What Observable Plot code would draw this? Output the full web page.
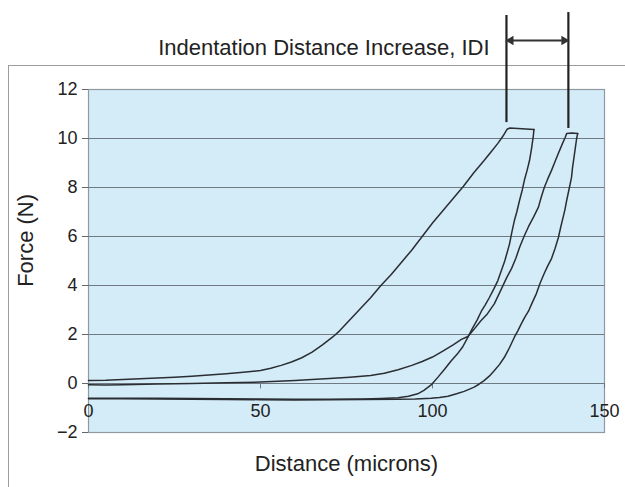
<!DOCTYPE html>
<html><head><meta charset="utf-8">
<script src="https://cdn.jsdelivr.net/npm/d3@7"></script>
<script src="https://cdn.jsdelivr.net/npm/@observablehq/plot@0.6"></script>
<style>
body{margin:0;background:#fff;}
#wrap{position:relative;width:625px;height:487px;overflow:hidden;font-family:"Liberation Sans",Arial,sans-serif;}
#box{position:absolute;left:8px;top:65px;width:700px;height:500px;border-left:1.5px solid #9c9c9c;border-top:1.5px solid #9c9c9c;}
#wrap svg{position:absolute;left:0;top:0;}
</style></head><body><div id="wrap"><div id="box"></div></div>
<script>
// ---- data (distance in microns, force in N) ----
const load1 = [[0,0.12],[5,0.13],[10,0.16],[15,0.19],[20,0.22],[25,0.26],[30,0.3],[35,0.35],[40,0.4],[45,0.46],[50,0.53],[53,0.62],[56,0.74],[59,0.88],[62,1.05],[65,1.28],[68,1.58],[71,1.9],[73,2.15],[76,2.6],[79,3.05],[82,3.5],[85,4.0],[88,4.45],[91,4.95],[94,5.45],[97,6.0],[100,6.55],[103,7.05],[106,7.55],[109,8.05],[112,8.6],[115,9.1],[117,9.45],[119,9.8],[120.5,10.1],[121.7,10.38],[122.5,10.43],[126,10.4],[129.5,10.37]];
const unload1 = [[129.5,10.37],[129.3,10.1],[128.8,9.6],[128.2,9.1],[127.5,8.7],[126.8,8.35],[126.1,7.9],[125.3,7.47],[124.5,7.0],[123.8,6.65],[123.1,6.2],[122.4,5.7],[121.7,5.35],[121,5.0],[120,4.6],[119,4.2],[117.8,3.85],[116.5,3.5],[115.3,3.2],[114.2,2.95],[113,2.6],[111.6,2.25],[110.3,1.89],[108.8,1.5],[107.2,1.2],[105.4,0.92],[103.5,0.58],[101.6,0.26],[99.6,-0.06],[97.5,-0.28],[95.7,-0.42],[93,-0.52],[90,-0.58],[85,-0.61],[80,-0.63],[70,-0.64],[60,-0.64],[50,-0.63],[40,-0.62],[30,-0.61],[20,-0.6],[10,-0.6],[0,-0.6]];
const load2 = [[0,-0.05],[5,-0.06],[10,-0.05],[20,-0.02],[30,0.0],[40,0.03],[50,0.06],[60,0.12],[70,0.2],[76,0.26],[82,0.33],[86,0.42],[90,0.56],[94,0.74],[97,0.9],[100,1.08],[103,1.32],[106,1.58],[108.4,1.8],[110.3,1.92],[112,2.2],[114,2.55],[116,2.85],[118,3.26],[120,3.85],[121.5,4.3],[123,4.7],[124.2,5.1],[125.3,5.55],[126.6,6.0],[127.9,6.4],[129.4,6.8],[130.8,7.2],[131.6,7.6],[132.5,8.0],[133.5,8.35],[134.6,8.7],[135.6,9.05],[136.6,9.4],[137.8,9.8],[138.6,10.05],[139,10.2],[140.5,10.22],[142.2,10.2]];
const unload2 = [[142.2,10.2],[141.9,10.0],[141.5,9.6],[141.1,9.2],[140.7,8.8],[140.4,8.4],[139.8,8.0],[139,7.47],[138.5,7.1],[138,6.8],[137.3,6.4],[136.6,5.96],[135.6,5.5],[134.6,5.1],[133.5,4.8],[132.5,4.5],[131.3,4.1],[130.2,3.67],[129,3.3],[127.9,2.95],[126.8,2.7],[125.8,2.43],[124.8,2.15],[123.8,1.89],[122.4,1.47],[120.9,1.07],[119.5,0.78],[118,0.53],[116.5,0.3],[115,0.12],[113.5,-0.03],[112.1,-0.15],[110.6,-0.24],[109.2,-0.32],[107,-0.42],[104.5,-0.52],[102,-0.57],[99.6,-0.6],[95,-0.63],[90,-0.64],[80,-0.65],[70,-0.66],[60,-0.67],[50,-0.66],[40,-0.65],[30,-0.64],[20,-0.63],[10,-0.62],[0,-0.62]];

const xTicks = [0, 50, 100, 150];
const yTicks = [-2, 0, 2, 4, 6, 8, 10, 12];
const gridY = [0, 2, 4, 6, 8, 10];

const titleText = "Indentation Distance Increase, IDI";
const xLabel = "Distance (microns)";
const yLabel = "Force (N)";

// IDI annotation: peak distances of the two cycles
const idiX = [121.5, 139.5];
const idiTop = [15.02, 15.14];
const idiBottom = [10.65, 10.41];
const idiArrowY = 14.0;

const px = d => d[0], py = d => d[1];
const curveStyle = {x: px, y: py, stroke: "#2a2e32", strokeWidth: 1.5};

const heads = [
  {x: idiX[0] + 1.25, rot: -90},
  {x: idiX[1] - 1.25, rot: 90}
];

const chart = Plot.plot({
  width: 625, height: 487,
  marginTop: 89, marginBottom: 55, marginLeft: 88, marginRight: 21,
  style: {background: "transparent", fontFamily: "'Liberation Sans', Arial, sans-serif", color: "#222", overflow: "visible"},
  x: {domain: [0, 150], axis: null},
  y: {domain: [-2, 12], axis: null},
  marks: [
    Plot.frame({fill: "#d4ebf8", stroke: "#8f999f", strokeWidth: 1.2}),
    Plot.ruleY(gridY, {stroke: "#6f7a82", strokeWidth: 1}),
    Plot.axisY({ticks: yTicks, tickSize: 6, tickPadding: 5, fontSize: 18, label: null, stroke: "#666", fill: "#222", tickFormat: d => d < 0 ? "\u2212" + Math.abs(d) : String(d)}),
    Plot.ruleX(xTicks, {x: d => d, y1: 0, y2: -0.22, stroke: "#6f7a82"}),
    Plot.text(xTicks, {x: d => d, y: () => -1.15, text: d => String(d), fontSize: 18, fill: "#222"}),
    Plot.line(load1, curveStyle),
    Plot.line(unload1, curveStyle),
    Plot.line(load2, curveStyle),
    Plot.line(unload2, curveStyle),
    Plot.ruleX(idiX.map((x, i) => ({x, y1: idiBottom[i], y2: idiTop[i]})), {x: "x", y1: "y1", y2: "y2", stroke: "#222", strokeWidth: 2.2}),
    Plot.link([{x1: idiX[0] + 1.5, x2: idiX[1] - 1.5}], {x1: "x1", x2: "x2", y1: () => idiArrowY, y2: () => idiArrowY, stroke: "#333", strokeWidth: 2}),
    Plot.dot(heads, {x: "x", y: () => idiArrowY, symbol: "triangle2", r: 4.5, rotate: "rot", fill: "#333", stroke: "none"}),
    Plot.text([titleText], {x: () => 116.6, y: () => 13.71, text: d => d, textAnchor: "end", fontSize: 22, fill: "#222"}),
    Plot.text([xLabel], {x: () => 75, y: () => -3.27, text: d => d, fontSize: 22, fill: "#222"}),
    Plot.text([yLabel], {frameAnchor: "left", dx: -63, y: () => 5.84, text: d => d, rotate: -90, textAnchor: "middle", fontSize: 22, fill: "#222"})
  ]
});
document.getElementById("wrap").appendChild(chart);
</script>
</body></html>
